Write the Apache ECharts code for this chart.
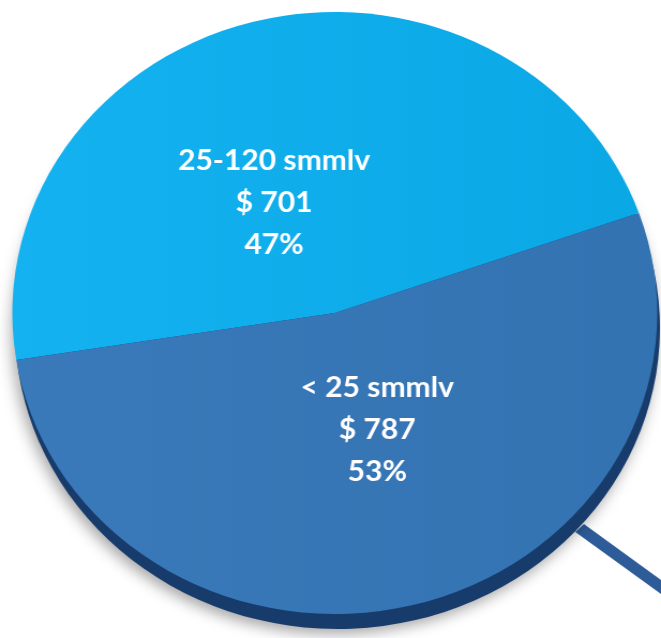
<!DOCTYPE html>
<html>
<head>
<meta charset="utf-8">
<script src="https://cdn.jsdelivr.net/npm/echarts@6/dist/echarts.min.js"></script>
<style>html,body{margin:0;padding:0;background:#fff;overflow:hidden}
#c{width:617px;height:638px;transform:scaleX(1.0713);transform-origin:0 0}</style>
</head>
<body>
<div id="c"></div>
<script>
const categories = ['25-120 smmlv', '< 25 smmlv'];
const amounts = [701, 787];
const percentLabels = ['47%', '53%'];
const colors = ['#10B0EE', '#3A78B8'];

const chart = echarts.init(document.getElementById('c'), null, {renderer: 'canvas'});
const pieData = categories.map((c, i) => ({
  name: c, value: amounts[i],
  itemStyle: {color: {type: 'linear', x: 0, y: 0, x2: 1, y2: 0, colorStops: [
    {offset: 0, color: i === 0 ? '#14B2F0' : '#3B7ABA'},
    {offset: 1, color: i === 0 ? '#0AA9E6' : '#3473B2'}]}}
}));
const rimData = categories.map((c, i) => ({name: c, value: amounts[i]}));

chart.setOption({
  backgroundColor: '#ffffff',
  animation: false,
  graphic: [{
    type: 'polygon', z: 0,
    shape: {points: [[537, 532], [545, 524], [617, 580], [617, 594]]},
    style: {fill: '#2E5C99'}
  }],
  series: [
    {
      type: 'pie', silent: true, z: 1,
      center: [315, 328], radius: 301, startAngle: 189,
      label: {show: false}, labelLine: {show: false},
      itemStyle: {color: '#173C6C', shadowBlur: 14, shadowColor: 'rgba(0,0,0,0.35)', shadowOffsetX: -3, shadowOffsetY: 5},
      data: rimData
    },
    {
      type: 'pie', z: 2,
      center: [312.5, 313], radius: 301, startAngle: 189,
      label: {
        show: true, position: 'inside', color: '#ffffff',
        fontFamily: 'Lato', fontWeight: 'bold', fontSize: 28, lineHeight: 42,
        formatter: p => p.name + '\n$ ' + p.value + '\n' + percentLabels[p.dataIndex]
      },
      labelLine: {show: false},
      labelLayout: p => p.dataIndex === 0 ? {dx: -19, dy: 39} : {dx: 2, dy: -32},
      itemStyle: {borderWidth: 0},
      data: pieData
    }
  ]
});
</script>
</body>
</html>
